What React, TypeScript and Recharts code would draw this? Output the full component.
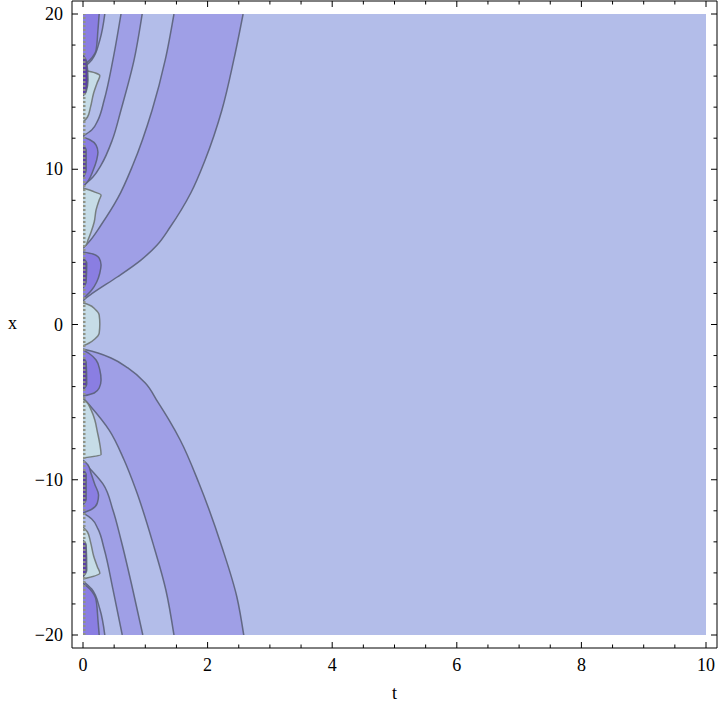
import React from "react";
import { ComposedChart, Area, XAxis, YAxis, ReferenceLine } from "recharts";

if (typeof document !== "undefined") {
  document.body.style.margin = "0";
}

// ---- tick values ----
const tTicks = [0, 0.5, 1, 1.5, 2, 2.5, 3, 3.5, 4, 4.5, 5, 5.5, 6, 6.5, 7, 7.5, 8, 8.5, 9, 9.5, 10];
const xTicks = [-20, -18, -16, -14, -12, -10, -8, -6, -4, -2, 0, 2, 4, 6, 8, 10, 12, 14, 16, 18, 20];

// ---- contour regions (x = vertical axis, t = horizontal boundary) ----
const backgroundField = [{ x: 20, t: 10 }, { x: -20, t: 10 }];

const outerUpper = [
  { x: 20, t: 2.57 }, { x: 17.04, t: 2.42 }, { x: 13.82, t: 2.23 }, { x: 10.6, t: 1.96 },
  { x: 8.47, t: 1.73 }, { x: 6.28, t: 1.4 }, { x: 5.12, t: 1.19 }, { x: 4.15, t: 0.93 },
  { x: 3.06, t: 0.55 }, { x: 2.03, t: 0.16 }, { x: 1.71, t: 0.05 }, { x: 1.51, t: 0 },
];
const outerLower = [
  { x: -1.58, t: 0 }, { x: -1.84, t: 0.24 }, { x: -2.16, t: 0.45 }, { x: -2.8, t: 0.72 },
  { x: -3.77, t: 1.0 }, { x: -4.99, t: 1.2 }, { x: -6.15, t: 1.38 }, { x: -7.44, t: 1.56 },
  { x: -10.21, t: 1.86 }, { x: -14.33, t: 2.23 }, { x: -17.55, t: 2.47 }, { x: -20, t: 2.58 },
];
const secondUpper = [
  { x: 20, t: 1.46 }, { x: 17.04, t: 1.32 }, { x: 13.82, t: 1.11 }, { x: 10.27, t: 0.8 },
  { x: 8.15, t: 0.56 }, { x: 6.41, t: 0.29 }, { x: 5.25, t: 0.08 }, { x: 4.93, t: 0 },
];
const secondLower = [
  { x: -4.73, t: 0 }, { x: -5.31, t: 0.13 }, { x: -6.8, t: 0.42 }, { x: -8.73, t: 0.66 },
  { x: -10.66, t: 0.85 }, { x: -14.33, t: 1.14 }, { x: -17.1, t: 1.33 }, { x: -20, t: 1.46 },
];
const thirdUpper = [
  { x: 20, t: 0.95 }, { x: 17.04, t: 0.82 }, { x: 13.82, t: 0.61 }, { x: 11.88, t: 0.47 },
  { x: 10.27, t: 0.29 }, { x: 9.5, t: 0.16 }, { x: 8.92, t: 0 },
];
const thirdLower = [
  { x: -8.86, t: 0 }, { x: -9.5, t: 0.16 }, { x: -10.27, t: 0.32 }, { x: -11.95, t: 0.48 },
  { x: -13.88, t: 0.61 }, { x: -17.1, t: 0.8 }, { x: -20, t: 0.96 },
];
const fourthUpper = [
  { x: 20, t: 0.61 }, { x: 17.04, t: 0.48 }, { x: 14.46, t: 0.34 }, { x: 13.17, t: 0.24 },
  { x: 12.53, t: 0.14 }, { x: 12.14, t: 0 },
];
const fourthLower = [
  { x: -12.14, t: 0 }, { x: -12.53, t: 0.14 }, { x: -13.17, t: 0.24 }, { x: -14.46, t: 0.34 },
  { x: -17.04, t: 0.48 }, { x: -20, t: 0.63 },
];
const fifthUpper = [{ x: 20, t: 0.35 }, { x: 18.33, t: 0.27 }, { x: 17.04, t: 0.14 }, { x: 16.52, t: 0 }];
const fifthLower = [{ x: -16.52, t: 0 }, { x: -17.04, t: 0.14 }, { x: -18.33, t: 0.27 }, { x: -20, t: 0.35 }];

// ---- islands near t = 0 ----
const cyanA_up = [{ x: 16.39, t: 0 }, { x: 16.2, t: 0.2 }, { x: 16.02, t: 0.27 }, { x: 15.6, t: 0.23 }, { x: 14.9, t: 0.17 }, { x: 14.0, t: 0.12 }, { x: 13.35, t: 0.07 }, { x: 13.04, t: 0 }];
const cyanB_up = [{ x: 8.79, t: 0 }, { x: 8.53, t: 0.19 }, { x: 8.34, t: 0.29 }, { x: 8.02, t: 0.26 }, { x: 7.38, t: 0.21 }, { x: 6.6, t: 0.18 }, { x: 5.96, t: 0.13 }, { x: 5.44, t: 0.08 }, { x: 5.12, t: 0.05 }, { x: 4.93, t: 0 }];
const cyanCenter = [{ x: 1.38, t: 0 }, { x: 1.26, t: 0.1 }, { x: 1.0, t: 0.19 }, { x: 0.61, t: 0.26 }, { x: 0.03, t: 0.27 }, { x: -0.55, t: 0.26 }, { x: -0.93, t: 0.19 }, { x: -1.19, t: 0.1 }, { x: -1.38, t: 0 }];
const cyanB_low = [{ x: -4.8, t: 0 }, { x: -5.0, t: 0.06 }, { x: -5.5, t: 0.13 }, { x: -6.15, t: 0.19 }, { x: -6.9, t: 0.23 }, { x: -7.7, t: 0.27 }, { x: -8.38, t: 0.29 }, { x: -8.6, t: 0 }];
const cyanA_low = [{ x: -13.04, t: 0 }, { x: -13.35, t: 0.07 }, { x: -14.0, t: 0.12 }, { x: -14.9, t: 0.17 }, { x: -15.6, t: 0.23 }, { x: -16.02, t: 0.27 }, { x: -16.39, t: 0 }];

const purpleA_up = [{ x: 20, t: 0.26 }, { x: 18.97, t: 0.24 }, { x: 17.68, t: 0.21 }, { x: 17.04, t: 0.11 }, { x: 16.65, t: 0 }];
const purpleB_up = [{ x: 12.08, t: 0 }, { x: 11.9, t: 0.11 }, { x: 11.55, t: 0.21 }, { x: 11.1, t: 0.24 }, { x: 10.6, t: 0.22 }, { x: 9.9, t: 0.16 }, { x: 9.3, t: 0.09 }, { x: 8.86, t: 0 }];
const purpleC_up = [{ x: 4.67, t: 0 }, { x: 4.54, t: 0.16 }, { x: 4.28, t: 0.26 }, { x: 3.83, t: 0.29 }, { x: 3.32, t: 0.27 }, { x: 2.74, t: 0.22 }, { x: 2.22, t: 0.14 }, { x: 1.84, t: 0.05 }, { x: 1.64, t: 0 }];
const purpleC_low = [{ x: -1.64, t: 0 }, { x: -1.9, t: 0.11 }, { x: -2.29, t: 0.21 }, { x: -2.93, t: 0.27 }, { x: -3.57, t: 0.29 }, { x: -4.09, t: 0.26 }, { x: -4.41, t: 0.18 }, { x: -4.61, t: 0 }];
const purpleB_low = [{ x: -8.73, t: 0 }, { x: -9.05, t: 0.08 }, { x: -9.6, t: 0.13 }, { x: -10.3, t: 0.19 }, { x: -10.98, t: 0.25 }, { x: -11.5, t: 0.23 }, { x: -11.9, t: 0.14 }, { x: -12.14, t: 0 }];
const purpleA_low = [{ x: -16.65, t: 0 }, { x: -17.04, t: 0.11 }, { x: -17.75, t: 0.21 }, { x: -19.03, t: 0.24 }, { x: -20, t: 0.26 }];

const darkA_up = [{ x: 17.36, t: 0 }, { x: 16.91, t: 0.06 }, { x: 15.75, t: 0.08 }, { x: 14.98, t: 0.05 }, { x: 14.72, t: 0 }];
const darkB_up = [{ x: 11.56, t: 0 }, { x: 11.24, t: 0.05 }, { x: 9.95, t: 0.05 }, { x: 9.44, t: 0 }];
const darkC_up = [{ x: 4.28, t: 0 }, { x: 3.96, t: 0.06 }, { x: 2.74, t: 0.05 }, { x: 2.35, t: 0 }];
const darkC_low = [{ x: -2.16, t: 0 }, { x: -2.42, t: 0.05 }, { x: -3.83, t: 0.06 }, { x: -4.22, t: 0 }];
const darkB_low = [{ x: -9.34, t: 0 }, { x: -9.66, t: 0.05 }, { x: -11.27, t: 0.05 }, { x: -11.6, t: 0 }];
const darkA_low = [{ x: -13.88, t: 0 }, { x: -14.2, t: 0.05 }, { x: -15.81, t: 0.06 }, { x: -16.27, t: 0 }];

// ---- colours ----
const LIGHT = "#b3bde9";
const DEEP = "#9f9fe6";
const CYAN = "#c6dce7";
const PURPLE = "#8a7ee2";
const DARK = "#5a3ea6";
const LINE = "#5a6079";
const ISLAND_LINE = "#6e7574";

const layers = [
  { id: "outerUpper", data: outerUpper, fill: DEEP, stroke: LINE },
  { id: "outerLower", data: outerLower, fill: DEEP, stroke: LINE },
  { id: "secondUpper", data: secondUpper, fill: LIGHT, stroke: LINE },
  { id: "secondLower", data: secondLower, fill: LIGHT, stroke: LINE },
  { id: "thirdUpper", data: thirdUpper, fill: DEEP, stroke: LINE },
  { id: "thirdLower", data: thirdLower, fill: DEEP, stroke: LINE },
  { id: "fourthUpper", data: fourthUpper, fill: LIGHT, stroke: LINE },
  { id: "fourthLower", data: fourthLower, fill: LIGHT, stroke: LINE },
  { id: "fifthUpper", data: fifthUpper, fill: DEEP, stroke: LINE },
  { id: "fifthLower", data: fifthLower, fill: DEEP, stroke: LINE },
  { id: "cyanA_up", data: cyanA_up, fill: CYAN, stroke: ISLAND_LINE },
  { id: "cyanB_up", data: cyanB_up, fill: CYAN, stroke: ISLAND_LINE },
  { id: "cyanCenter", data: cyanCenter, fill: CYAN, stroke: ISLAND_LINE },
  { id: "cyanB_low", data: cyanB_low, fill: CYAN, stroke: ISLAND_LINE },
  { id: "cyanA_low", data: cyanA_low, fill: CYAN, stroke: ISLAND_LINE },
  { id: "purpleA_up", data: purpleA_up, fill: PURPLE, stroke: LINE },
  { id: "purpleB_up", data: purpleB_up, fill: PURPLE, stroke: LINE },
  { id: "purpleC_up", data: purpleC_up, fill: PURPLE, stroke: LINE },
  { id: "purpleC_low", data: purpleC_low, fill: PURPLE, stroke: LINE },
  { id: "purpleB_low", data: purpleB_low, fill: PURPLE, stroke: LINE },
  { id: "purpleA_low", data: purpleA_low, fill: PURPLE, stroke: LINE },
  { id: "darkA_up", data: darkA_up, fill: DARK, stroke: LINE },
  { id: "darkB_up", data: darkB_up, fill: DARK, stroke: LINE },
  { id: "darkC_up", data: darkC_up, fill: DARK, stroke: LINE },
  { id: "darkC_low", data: darkC_low, fill: DARK, stroke: LINE },
  { id: "darkB_low", data: darkB_low, fill: DARK, stroke: LINE },
  { id: "darkA_low", data: darkA_low, fill: DARK, stroke: LINE },
];

const FONT = "'Liberation Serif', 'Times New Roman', serif";
const near = (v: number, step: number) => Math.abs(v / step - Math.round(v / step)) < 1e-6;
const fmt = (v: number) => (v < 0 ? "\u2212" + Math.abs(v) : String(v));

function BottomTick(props: any) {
  const { x, y, payload } = props;
  const v = payload.value;
  const major = near(v, 2);
  return (
    <g>
      <line x1={x} x2={x} y1={y} y2={y - (major ? 6 : 3.5)} stroke="#000" strokeWidth={1} />
      {major && (
        <text x={x} y={y + 23} textAnchor="middle" fontFamily={FONT} fontSize={18} fill="#000">
          {fmt(v)}
        </text>
      )}
    </g>
  );
}
function TopTick(props: any) {
  const { x, y, payload } = props;
  const major = near(payload.value, 2);
  return <line x1={x} x2={x} y1={y} y2={y + (major ? 6 : 3.5)} stroke="#000" strokeWidth={1} />;
}
function LeftTick(props: any) {
  const { x, y, payload } = props;
  const v = payload.value;
  const major = near(v, 10);
  return (
    <g>
      <line x1={x} x2={x + (major ? 6 : 3.5)} y1={y} y2={y} stroke="#000" strokeWidth={1} />
      {major && (
        <text x={x - 9} y={y + 6} textAnchor="end" fontFamily={FONT} fontSize={18} fill="#000">
          {fmt(v)}
        </text>
      )}
    </g>
  );
}
function RightTick(props: any) {
  const { x, y, payload } = props;
  const major = near(payload.value, 10);
  return <line x1={x} x2={x - (major ? 6 : 3.5)} y1={y} y2={y} stroke="#000" strokeWidth={1} />;
}

export default function App() {
  return (
    <div style={{ width: 720, height: 708, background: "#fff" }}>
      <ComposedChart
        width={720}
        height={708}
        layout="vertical"
        margin={{ top: 0, right: 2, left: 0, bottom: 0 }}
      >
        <XAxis
          type="number"
          dataKey="t"
          domain={[0, 10]}
          ticks={tTicks}
          interval={0}
          padding={{ left: 11, right: 11 }}
          height={60}
          tickSize={0}
          tickMargin={0}
          tickLine={false}
          tick={<BottomTick />}
          axisLine={{ stroke: "#000", strokeWidth: 1 }}
          allowDataOverflow
          label={(p: any) => {
            const vb = p.viewBox || {};
            return (
              <text x={(vb.x || 72) + (vb.width || 645) / 2} y={(vb.y || 648) + 51} textAnchor="middle" fontFamily={FONT} fontSize={18} fill="#000">
                t
              </text>
            );
          }}
        />
        <XAxis
          xAxisId="top"
          orientation="top"
          type="number"
          dataKey="t"
          domain={[0, 10]}
          ticks={tTicks}
          interval={0}
          padding={{ left: 11, right: 11 }}
          height={1}
          tickSize={0}
          tickMargin={0}
          tickLine={false}
          tick={<TopTick />}
          axisLine={{ stroke: "#000", strokeWidth: 1 }}
          allowDataOverflow
        />
        <YAxis
          type="number"
          dataKey="x"
          domain={[-20, 20]}
          reversed
          ticks={xTicks}
          interval={0}
          padding={{ top: 13, bottom: 13 }}
          width={72}
          tickSize={0}
          tickMargin={0}
          tickLine={false}
          tick={<LeftTick />}
          axisLine={{ stroke: "#000", strokeWidth: 1 }}
          allowDataOverflow
          label={(p: any) => {
            const vb = p.viewBox || {};
            return (
              <text x={12.5} y={(vb.y || 1) + (vb.height || 647) / 2 + 4} textAnchor="middle" fontFamily={FONT} fontSize={18} fill="#000">
                x
              </text>
            );
          }}
        />
        <YAxis
          yAxisId="right"
          orientation="right"
          type="number"
          dataKey="x"
          domain={[-20, 20]}
          reversed
          ticks={xTicks}
          interval={0}
          padding={{ top: 13, bottom: 13 }}
          width={1}
          tickSize={0}
          tickMargin={0}
          tickLine={false}
          tick={<RightTick />}
          axisLine={{ stroke: "#000", strokeWidth: 1 }}
          allowDataOverflow
        />
        <Area
          xAxisId="top"
          yAxisId="right"
          data={backgroundField}
          dataKey="t"
          type="linear"
          fill={LIGHT}
          fillOpacity={1}
          stroke="none"
          isAnimationActive={false}
          dot={false}
          activeDot={false}
        />
        {layers.map((l) => (
          <Area
            key={l.id}
            name={l.id}
            data={l.data}
            dataKey="t"
            type="monotone"
            fill={l.fill}
            fillOpacity={1}
            stroke={l.stroke}
            strokeWidth={1.5}
            strokeOpacity={0.9}
            isAnimationActive={false}
            dot={false}
            activeDot={false}
          />
        ))}
        <ReferenceLine
          segment={[{ x: 0.02, y: -20 }, { x: 0.02, y: 20 }]}
          stroke="#8f9385"
          strokeWidth={2.5}
          strokeDasharray="2 2"
        />
      </ComposedChart>
    </div>
  );
}
